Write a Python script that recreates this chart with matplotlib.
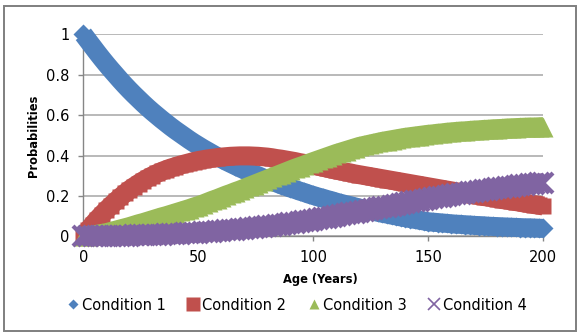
import numpy as np
import matplotlib
matplotlib.use('Agg')
import matplotlib.pyplot as plt
from matplotlib.lines import Line2D
from matplotlib.patches import Rectangle

# age in years, one point every 2 years
age = np.arange(0, 201, 2)

# probability of each condition state at each age
condition1 = [1.000, 0.970, 0.940, 0.910, 0.881, 0.853, 0.826, 0.800, 0.774, 0.749,
              0.725, 0.702, 0.680, 0.658, 0.637, 0.617, 0.598, 0.579, 0.561, 0.543,
              0.526, 0.510, 0.494, 0.478, 0.463, 0.449, 0.435, 0.422, 0.409, 0.396,
              0.384, 0.372, 0.361, 0.350, 0.339, 0.329, 0.319, 0.309, 0.300, 0.290,
              0.281, 0.272, 0.264, 0.255, 0.247, 0.239, 0.232, 0.224, 0.217, 0.209,
              0.202, 0.195, 0.189, 0.182, 0.176, 0.169, 0.163, 0.157, 0.152, 0.146,
              0.140, 0.135, 0.130, 0.125, 0.119, 0.114, 0.110, 0.105, 0.101, 0.096,
              0.092, 0.088, 0.084, 0.080, 0.076, 0.072, 0.070, 0.068, 0.066, 0.064,
              0.062, 0.060, 0.059, 0.057, 0.056, 0.054, 0.053, 0.052, 0.050, 0.049,
              0.048, 0.047, 0.046, 0.045, 0.044, 0.043, 0.042, 0.042, 0.041, 0.040,
              0.039]
condition2 = [0.000, 0.029, 0.057, 0.083, 0.107, 0.130, 0.152, 0.173, 0.193, 0.212,
              0.230, 0.246, 0.261, 0.275, 0.288, 0.300, 0.311, 0.321, 0.330, 0.338,
              0.345, 0.352, 0.358, 0.364, 0.370, 0.375, 0.379, 0.383, 0.386, 0.389,
              0.392, 0.394, 0.396, 0.397, 0.398, 0.398, 0.398, 0.397, 0.396, 0.394,
              0.392, 0.389, 0.385, 0.382, 0.378, 0.374, 0.370, 0.365, 0.361, 0.356,
              0.352, 0.347, 0.342, 0.337, 0.332, 0.327, 0.323, 0.318, 0.314, 0.309,
              0.305, 0.301, 0.297, 0.293, 0.289, 0.285, 0.281, 0.277, 0.273, 0.269,
              0.265, 0.261, 0.257, 0.253, 0.249, 0.245, 0.241, 0.237, 0.233, 0.229,
              0.225, 0.221, 0.217, 0.213, 0.209, 0.205, 0.201, 0.197, 0.194, 0.190,
              0.186, 0.182, 0.179, 0.175, 0.172, 0.168, 0.164, 0.161, 0.157, 0.154,
              0.150]
condition3 = [0.000, 0.003, 0.006, 0.010, 0.014, 0.018, 0.024, 0.030, 0.036, 0.042,
              0.048, 0.055, 0.062, 0.068, 0.075, 0.082, 0.089, 0.096, 0.102, 0.109,
              0.116, 0.123, 0.130, 0.137, 0.145, 0.152, 0.160, 0.169, 0.178, 0.186,
              0.195, 0.204, 0.212, 0.221, 0.229, 0.238, 0.247, 0.256, 0.265, 0.274,
              0.283, 0.292, 0.301, 0.310, 0.319, 0.328, 0.337, 0.345, 0.353, 0.362,
              0.370, 0.378, 0.386, 0.394, 0.402, 0.410, 0.417, 0.424, 0.431, 0.438,
              0.445, 0.450, 0.455, 0.460, 0.465, 0.470, 0.474, 0.478, 0.482, 0.486,
              0.490, 0.493, 0.496, 0.499, 0.502, 0.505, 0.507, 0.510, 0.512, 0.515,
              0.517, 0.519, 0.521, 0.522, 0.524, 0.526, 0.527, 0.529, 0.530, 0.532,
              0.533, 0.534, 0.536, 0.537, 0.538, 0.539, 0.540, 0.541, 0.541, 0.542,
              0.543]
condition4 = [0.000, 0.000, 0.000, 0.001, 0.001, 0.001, 0.001, 0.002, 0.002, 0.003,
              0.003, 0.004, 0.004, 0.005, 0.005, 0.006, 0.007, 0.008, 0.009, 0.010,
              0.011, 0.012, 0.014, 0.015, 0.017, 0.018, 0.020, 0.022, 0.023, 0.025,
              0.027, 0.029, 0.031, 0.033, 0.035, 0.037, 0.039, 0.042, 0.044, 0.047,
              0.049, 0.052, 0.055, 0.058, 0.061, 0.064, 0.067, 0.071, 0.074, 0.078,
              0.081, 0.085, 0.089, 0.092, 0.096, 0.100, 0.104, 0.108, 0.113, 0.117,
              0.121, 0.125, 0.130, 0.134, 0.139, 0.143, 0.147, 0.152, 0.156, 0.161,
              0.165, 0.169, 0.173, 0.177, 0.181, 0.185, 0.189, 0.193, 0.197, 0.200,
              0.204, 0.207, 0.211, 0.214, 0.218, 0.221, 0.224, 0.227, 0.231, 0.234,
              0.237, 0.240, 0.243, 0.246, 0.249, 0.252, 0.255, 0.258, 0.260, 0.263,
              0.266]

series_names = ['Condition 1', 'Condition 2', 'Condition 3', 'Condition 4']
x_ticks = [0, 50, 100, 150, 200]
y_ticks = [0, 0.2, 0.4, 0.6, 0.8, 1]
y_tick_labels = ['0', '0.2', '0.4', '0.6', '0.8', '1']

# office-style colours and markers for the four series
colors = ['#4F81BD', '#C0504D', '#9BBB59', '#8064A2']
markers = ['D', 's', '^', 'x']
sizes = [10, 12.2, 14.0, 14.0]
# the markers are packed so tightly they merge into one thick band
band_width = 13.7
legend_sizes = [4.6, 9.4, 7.7, 8.4]
axis_grey = '#868686'

plt.rcParams['font.family'] = ['DejaVu Sans']

fig = plt.figure(figsize=(5.8, 3.33), dpi=100)
ax = fig.add_axes([83.3 / 580, 96.7 / 333, 460 / 580, 202 / 333])

# plot every series as a dense run of big markers
for values, color, marker, size in zip([condition1, condition2, condition3, condition4],
                                       colors, markers, sizes):
    if marker == 'x':
        ax.plot(age, values, color=color, lw=band_width, solid_capstyle='butt',
                marker=marker, ms=size, mec=color, mew=3.0, clip_on=False, zorder=3)
    else:
        ax.plot(age, values, color=color, lw=band_width, solid_capstyle='butt',
                marker=marker, ms=size, mfc=color, mec='none', clip_on=False, zorder=3)

# axes range, ticks and gridlines
ax.set_xlim(0, 200)
ax.set_ylim(0, 1)
ax.set_xticks(x_ticks)
ax.set_yticks(y_ticks)
ax.set_yticklabels(y_tick_labels)
ax.yaxis.grid(True, color='#a6a6a6', lw=1.1)
ax.set_axisbelow(True)
for side in ['top', 'right']:
    ax.spines[side].set_visible(False)
for side in ['left', 'bottom']:
    ax.spines[side].set_color(axis_grey)
    ax.spines[side].set_linewidth(1.0)
ax.tick_params(direction='out', length=3.6, width=1.0, color=axis_grey,
               labelsize=10.5, pad=6.5, labelcolor='black')

# axis titles
fig.text(320 / 580, 1 - 280 / 333, 'Age (Years)', ha='center', va='center',
         fontsize=8.3, fontweight='bold')
fig.text(33 / 580, 1 - 136 / 333, 'Probabilities', ha='center', va='center',
         rotation=90, fontsize=8.3, fontweight='bold')

# legend along the bottom
handles = []
for color, marker, size in zip(colors, markers, legend_sizes):
    if marker == 'x':
        handles.append(Line2D([], [], ls='none', marker=marker, ms=size, mec=color, mew=1.2))
    else:
        handles.append(Line2D([], [], ls='none', marker=marker, ms=size, mfc=color, mec='none'))
fig.legend(handles, series_names, loc='center', bbox_to_anchor=(297 / 580, 1 - 305 / 333),
           ncol=4, frameon=False, fontsize=10.5, handlelength=0.8, handletextpad=0.2,
           columnspacing=1.5, borderpad=0)

# chart border
fig.patches.append(Rectangle((4 / 580, 2 / 333), 572 / 580, 325 / 333,
                             transform=fig.transFigure, fill=False,
                             ec='#7f7f7f', lw=1.4))

plt.savefig('out.png', dpi=100)
